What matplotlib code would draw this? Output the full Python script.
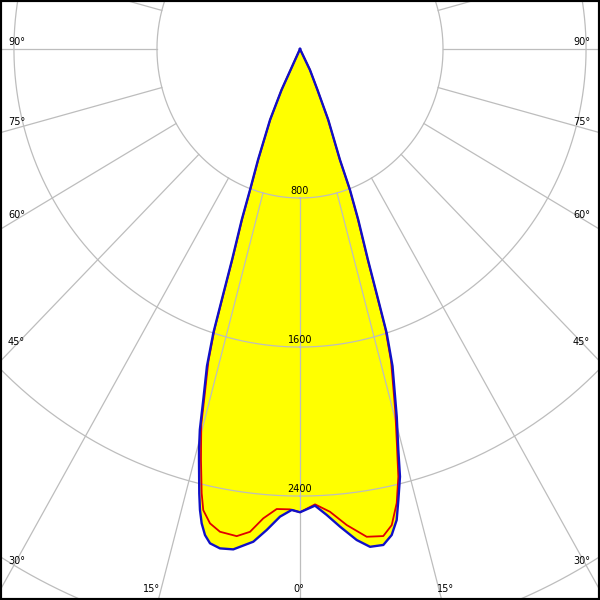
import numpy as np
import matplotlib
matplotlib.use("Agg")
import matplotlib.pyplot as plt

# gamma angle in degrees (negative = left half), luminous intensity in cd
blue_gamma = [-28, -25.18, -23.76, -21.52, -20.28, -19.56, -18.56, -18.0, -17.64, -17.0,
              -16.02, -15.33, -14.7, -14.36, -13.29, -12.74, -12.19, -11.51, -10.74, -9.48,
              -7.91, -5.64, -4.13, -2.55, -1.07, 0, 1.96, 3.42, 4.99, 6.86,
              8.34, 9.93, 11.12, 12.07, 12.8, 13.69, 14.33, 15.33, 16.91, 17.64,
              18.0, 18.56, 19.56, 20.28, 20.58, 22.55, 23.98, 26.36, 28]
blue_cd = [0, 243, 416, 641, 807, 974, 1195, 1417, 1600, 1780,
           1961, 2119, 2226, 2278, 2451, 2537, 2605, 2663, 2701, 2718,
           2712, 2658, 2589, 2513, 2475, 2487, 2453, 2506, 2574, 2655,
           2701, 2703, 2659, 2586, 2483, 2363, 2222, 2047, 1779, 1600,
           1417, 1195, 974, 807, 637, 413, 241, 126, 0]

red_gamma = [-28, -25.18, -23.76, -21.52, -20.28, -19.56, -18.56, -18.0, -17.64, -17.0,
             -16.02, -15.33, -14.6, -14.09, -12.99, -12.33, -11.18, -9.8, -7.71, -6.16,
             -4.66, -3.02, -1.3, 0, 1.97, 3.86, 5.84, 8.11, 10.1, 11.35,
             12.51, 13.47, 14.33, 15.33, 16.91, 17.64, 18.0, 18.56, 19.56, 20.28,
             20.58, 22.55, 23.98, 26.36, 28]
red_cd = [0, 240, 410, 631, 795, 960, 1177, 1396, 1576, 1753,
          1932, 2088, 2195, 2275, 2447, 2534, 2596, 2630, 2639, 2607,
          2528, 2473, 2472, 2487, 2446, 2490, 2569, 2645, 2656, 2607,
          2497, 2361, 2190, 2016, 1752, 1576, 1396, 1177, 960, 795,
          627, 407, 237, 124, 0]

rings = [800, 1600, 2400, 3200]
ring_labels = ["800", "1600", "2400"]

# angle labels: text, pixel x, pixel y, alignment
angle_labels = [
    ("90°", 8, 42, "left"), ("75°", 8, 122, "left"), ("60°", 8, 215, "left"),
    ("45°", 8, 342, "left"), ("30°", 8, 561, "left"),
    ("90°", 590, 42, "right"), ("75°", 590, 122, "right"), ("60°", 590, 215, "right"),
    ("45°", 590, 342, "right"), ("30°", 590, 561, "right"),
    ("15°", 160, 589, "right"), ("0°", 299, 589, "center"), ("15°", 437, 589, "left"),
]


def to_xy(gamma, r):
    g = np.radians(np.asarray(gamma, dtype=float))
    r = np.asarray(r, dtype=float)
    return r * np.sin(g), -r * np.cos(g)


fig = plt.figure(figsize=(6, 6), dpi=100)
ax = fig.add_axes([0, 0, 1, 1])
ax.set_xlim(-1678, 1678)
ax.set_ylim(-2958, 263)

grid_col = "#bdbdbd"

# yellow fill
bx, by = to_xy(blue_gamma, blue_cd)
rx, ry = to_xy(red_gamma, red_cd)
ax.fill(bx, by, color="#ffff00", lw=0, zorder=1)
ax.fill(rx, ry, color="#ffff00", lw=0, zorder=1)

# grid circles
t = np.linspace(0, 360, 721)
for r in rings:
    cx, cy = to_xy(t, np.full_like(t, r))
    ax.plot(cx, cy, color=grid_col, lw=0.9, zorder=2)

# radial lines starting at the first ring
for a in range(-180, 181, 15):
    lx, ly = to_xy([a, a], [rings[0], 6000])
    ax.plot(lx, ly, color=grid_col, lw=0.9, zorder=2)

# ring labels
for r, lab in zip(rings, ring_labels):
    ax.annotate(lab, (0, -r), xytext=(0, 1.5), textcoords="offset points",
                ha="center", va="bottom", fontsize=7, color="black", zorder=3)

# curves
ax.plot(rx, ry, color="#e00000", lw=1.3, zorder=4)
ax.plot(bx, by, color="#1010c8", lw=1.7, zorder=5)

for txt, px, py, ha in angle_labels:
    fig.text(px / 600, 1 - py / 600, txt, ha=ha, va="center", fontsize=7, color="black")

ax.set_xticks([])
ax.set_yticks([])
for s in ax.spines.values():
    s.set_linewidth(3)
    s.set_color("black")

fig.savefig("out.png", dpi=100)
